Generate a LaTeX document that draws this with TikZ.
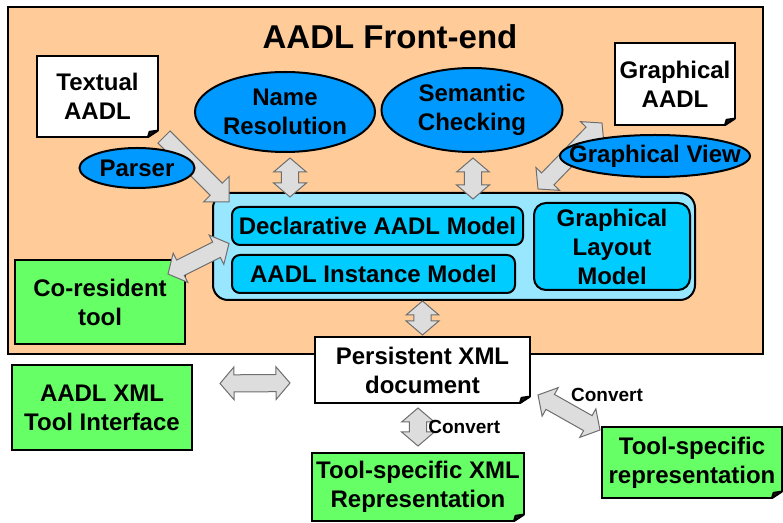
\documentclass[tikz,border=0pt]{standalone}
\usepackage{fontspec}
\setmainfont{Liberation Sans}
\usetikzlibrary{calc,shapes.geometric}

\definecolor{feorange}{HTML}{FFCC99}
\definecolor{ellblue}{HTML}{0099FF}
\definecolor{modelbg}{HTML}{99E6FF}
\definecolor{modelbox}{HTML}{00CCFF}
\definecolor{toolgreen}{HTML}{66FF66}
\definecolor{arrfill}{HTML}{DDDDDD}
\definecolor{arrline}{HTML}{6E6E6E}

% fat arrow sizes
\newcommand\arrhead{7pt}
\newcommand\arrwide{8.2pt}
\newcommand\arrnarrow{4.3pt}

% fat double arrow between two coordinates
\newcommand\fatarrow[2]{%
  \coordinate (fa1) at ($(#1)!\arrhead!(#2)$);
  \coordinate (fa2) at ($(#2)!\arrhead!(#1)$);
  \draw[fatarr] (#1) -- ($(fa1)!\arrwide!90:(#2)$) -- ($(fa1)!\arrnarrow!90:(#2)$)
    -- ($(fa2)!\arrnarrow!-90:(#1)$) -- ($(fa2)!\arrwide!-90:(#1)$) -- (#2)
    -- ($(fa2)!\arrwide!90:(#1)$) -- ($(fa2)!\arrnarrow!90:(#1)$)
    -- ($(fa1)!\arrnarrow!-90:(#2)$) -- ($(fa1)!\arrwide!-90:(#2)$) -- cycle;}
% fat single arrow
\newcommand\fatsarrow[2]{%
  \coordinate (fa2) at ($(#2)!9pt!(#1)$);
  \draw[fatarr] ($(#1)!\arrnarrow!90:(#2)$) -- ($(fa2)!\arrnarrow!-90:(#1)$)
    -- ($(fa2)!9pt!-90:(#1)$) -- (#2) -- ($(fa2)!9pt!90:(#1)$)
    -- ($(fa2)!\arrnarrow!90:(#1)$) -- ($(#1)!\arrnarrow!-90:(#2)$) -- cycle;}
% folded corner of a document, #2 = colour behind it
\newcommand\docfold[2]{%
  \fill[#2] ([xshift=0.6pt,yshift=-0.6pt]#1.south east) -- ([xshift=-5pt,yshift=-0.6pt]#1.south east)
    -- ([xshift=0.6pt,yshift=3.2pt]#1.south east) -- cycle;
  \draw[line width=1pt, line join=bevel, fill=black!85] ([xshift=-5pt]#1.south east)
    -- ([xshift=-4.2pt,yshift=2.6pt]#1.south east) -- ([yshift=3.2pt]#1.south east) -- cycle;}

\tikzset{
  txt/.style={font=\bfseries\fontsize{12}{14.5}\selectfont, align=center, inner sep=0pt},
  frontend/.style={draw, line width=1.2pt, fill=feorange},
  ell/.style={txt, ellipse, draw, line width=1pt, fill=ellblue},
  doc/.style={txt, draw, line width=1pt, fill=white, outer sep=0pt},
  tool/.style={txt, draw, line width=1pt, fill=toolgreen},
  modelbox/.style={txt, draw, line width=1pt, fill=modelbox, rounded corners=4pt},
  fatarr/.style={draw=arrline, line width=0.5pt, fill=arrfill, line join=miter},
  conv/.style={font=\bfseries\fontsize{9.5}{11}\selectfont, inner sep=0pt}
}

\begin{document}
\begin{tikzpicture}[x=0.5pt, y=-0.5pt]
  \useasboundingbox (0,0) rectangle (783,523);
  % front-end frame
  \node[frontend, minimum width=377.5pt, minimum height=173.5pt] (fe) at (385.5,180.5) {};
  \node[txt, font=\bfseries\fontsize{16.5}{19}\selectfont] (title) at (390,37) {AADL Front-end};
  % documents and passes
  \node[doc, minimum width=60.5pt, minimum height=40.5pt] (textual) at (97.5,96.5) {Textual\\AADL};
  \node[ell, minimum width=90pt, minimum height=40pt] (nameres) at (285,112) {Name\\Resolution};
  \node[ell, minimum width=90.5pt, minimum height=42pt] (semantic) at (472,110) {Semantic\\Checking};
  \node[doc, minimum width=60pt, minimum height=41pt] (graphical) at (675,84) {Graphical\\AADL};
  % model
  \node[draw, line width=1pt, fill=modelbg, rounded corners=7.5pt,
        minimum width=241pt, minimum height=53.5pt] (model) at (454,246.5) {};
  \node[modelbox, minimum width=145.5pt, minimum height=19pt] (decl) at (377.5,226) {Declarative AADL Model};
  \node[modelbox, minimum width=141.5pt, minimum height=19pt] (inst) at (373.5,274) {AADL Instance Model};
  \node[modelbox, rounded corners=6pt, minimum width=78pt, minimum height=43.5pt] (layout) at (612,246.5) {Graphical\\Layout\\Model};
  % tools
  \node[tool, minimum width=85pt, minimum height=42pt] (coresident) at (100,302) {Co-resident\\tool};
  \node[doc, minimum width=107.5pt, minimum height=33pt] (persistent) at (422.5,370) {Persistent XML\\document};
  \node[tool, minimum width=90pt, minimum height=42.5pt] (aadlxml) at (102,407.5) {AADL XML\\Tool Interface};
  \node[doc, fill=toolgreen, minimum width=106pt, minimum height=34pt] (toolxml) at (418,487) {Tool-specific XML\\Representation};
  \node[doc, fill=toolgreen, minimum width=90pt, minimum height=35.5pt] (toolrep) at (692,462.5) {Tool-specific\\representation};
  \docfold{textual}{feorange}
  \docfold{graphical}{feorange}
  \docfold{persistent}{white}
  \docfold{toolxml}{white}
  \docfold{toolrep}{white}
  % arrow ends
  \coordinate (ta) at ($(textual.south east)+(6,0)$);
  \coordinate (tb) at ($(model.north west)+(17,10)$);
  \coordinate (nr1) at ($(nameres.south)+(5,5)$);
  \coordinate (nr2) at ($(model.north -| nr1)+(0,5)$);
  \coordinate (sc1) at ($(semantic.south)+(1,5)$);
  \coordinate (sc2) at ($(model.north -| sc1)+(0,7)$);
  \coordinate (ga1) at ($(graphical.south west)+(-13,-2)$);
  \coordinate (ga2) at ($(model.north east)+(-158,-3)$);
  \coordinate (co1) at ($(coresident.north east)+(-18,15)$);
  \coordinate (co2) at ($(model.west)+(17,-3)$);
  \coordinate (mp1) at (model.south -| persistent.north);
  \coordinate (mp2) at ($(persistent.north)+(0,-2)$);
  \coordinate (hx1) at ($(aadlxml.east)+(27,-24)$);
  \coordinate (hx2) at ($(persistent.west)+(-25,13)$);
  \coordinate (pt1) at ($(persistent.south)+(-4.5,5)$);
  \coordinate (pt2) at ($(toolxml.north)+(0,-7)$);
  \coordinate (pr1) at ($(persistent.south east)+(8,-8)$);
  \coordinate (pr2) at ($(toolrep.north west)+(-2,3)$);
  % arrows
  \fatsarrow{ta}{tb}
  \fatarrow{nr1}{nr2}
  \fatarrow{sc1}{sc2}
  \fatarrow{ga1}{ga2}
  \fatarrow{co1}{co2}
  \fatarrow{mp1}{mp2}
  \fatarrow{hx1}{hx2}
  \fatarrow{pt1}{pt2}
  \fatarrow{pr1}{pr2}
  \node[conv, anchor=west] (conv1) at ($(pt1)!0.5!(pt2)+(10,0)$) {Convert};
  \node[conv] (conv2) at ($(pr1)+(69,0)$) {Convert};
  % views lying over the arrows
  \node[ell, minimum width=57.5pt, minimum height=20pt] (parser) at (137,168) {\makebox[0pt]{Parser}};
  \node[ell, minimum width=95pt, minimum height=21pt] (gview) at (655,156) {\makebox[0pt]{Graphical View}};
\end{tikzpicture}
\end{document}
